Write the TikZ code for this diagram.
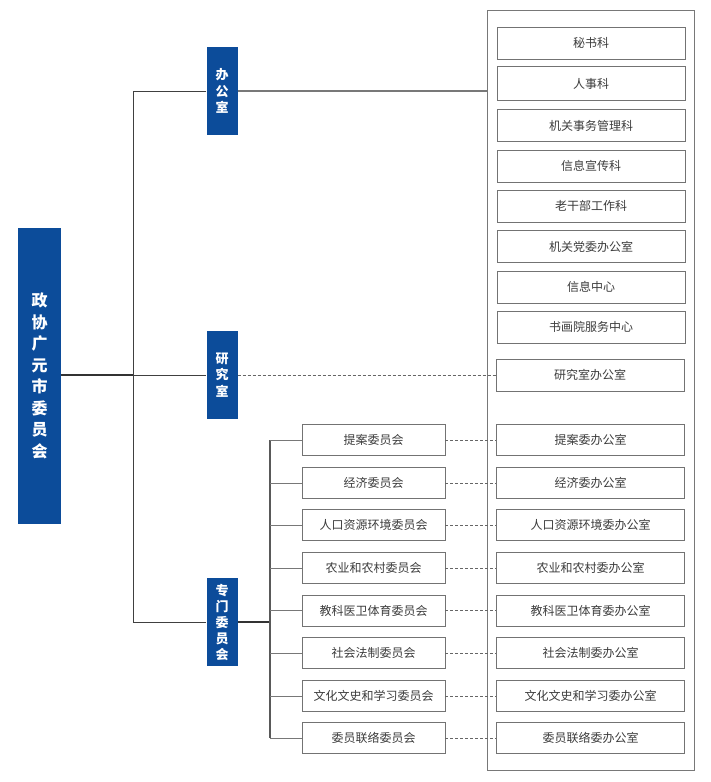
\documentclass[tikz,border=0pt]{standalone}
\usepackage{fontspec}
\newfontfamily\cjk{Noto Sans CJK SC}
\usepackage{xcolor}
\usepackage{tikz}

\definecolor{zxblue}{RGB}{12,76,154}
\definecolor{boxline}{RGB}{115,115,115}
\definecolor{txtgray}{RGB}{60,60,60}
\definecolor{linkgray}{RGB}{120,120,120}

\begin{document}
\begin{tikzpicture}[x=1pt, y=-1pt,
		bluebox/.style={fill=zxblue, text=white, align=center, inner sep=0pt, minimum width=31pt, minimum height=88pt, font=\cjk\bfseries\fontsize{13}{16.5}\selectfont},
		unitbox/.style={draw=boxline, line width=0.9pt, fill=white, text=txtgray, inner sep=0pt, minimum height=32pt, font=\cjk\fontsize{12}{14}\selectfont},
		deptbox/.style={unitbox, minimum width=188pt},
		combox/.style={unitbox, minimum width=143pt, minimum height=31pt},
		solidlink/.style={draw=linkgray, line width=1pt},
		dashlink/.style={draw=black!60, line width=0.9pt, dash pattern=on 3pt off 2pt}]
			\useasboundingbox (0, 0) rectangle (710, 782);
			
			%Frame
			\node[draw=linkgray, line width=0.8pt, minimum width=207pt, minimum height=760pt, inner sep=0pt] (frame) at (590.5, 390) {};
			
			%Level 1
			\node[bluebox, minimum width=43pt, minimum height=296pt, font=\cjk\bfseries\fontsize{16}{21.5}\selectfont] (cppcc) at (39.5, 376) {政\\协\\广\\元\\市\\委\\员\\会};
			
			%Level 2
			\node[bluebox] (office) at (222, 91) {办\\公\\室};
			\node[bluebox] (research) at (222, 375) {研\\究\\室};
			\node[bluebox, font=\cjk\bfseries\fontsize{13}{16}\selectfont] (special) at (222, 622) {专\\门\\委\\员\\会};
			
			%Lines
			\coordinate (trunk) at (133, 375);
			\draw[draw=black!80, line width=1.2pt] (cppcc.east |- trunk) -- (trunk);
			\draw[draw=black!75, line width=1pt] (office.west) -- (office.west -| trunk) -- (special.west -| trunk) -- (special.west);
			\draw[draw=black!75, line width=1pt] (trunk) -- (research.west);
			
			%Office sections
			\node[deptbox] (s1) at (591, 43) {秘书科};
			\node[deptbox, minimum height=34pt] (s2) at (591, 83.5) {人事科};
			\node[deptbox] (s3) at (591, 125.5) {机关事务管理科};
			\node[deptbox] (s4) at (591, 166) {信息宣传科};
			\node[deptbox] (s5) at (591, 206) {老干部工作科};
			\node[deptbox] (s6) at (591, 246.5) {机关党委办公室};
			\node[deptbox] (s7) at (591, 287) {信息中心};
			\node[deptbox] (s8) at (591, 327) {书画院服务中心};
			\node[deptbox] (r1) at (590, 375) {研究室办公室};
			\draw[draw=linkgray, line width=1.5pt] (office.east) -- (office.east -| frame.west);
			\draw[dashlink] (research.east) -- (r1.west);
			
			%Committees
			\node[combox] (c1) at (373.5, 440) {提案委员会};
			\node[combox] (c2) at (373.5, 483) {经济委员会};
			\node[combox] (c3) at (373.5, 525) {人口资源环境委员会};
			\node[combox] (c4) at (373.5, 568) {农业和农村委员会};
			\node[combox] (c5) at (373.5, 610.5) {教科医卫体育委员会};
			\node[combox] (c6) at (373.5, 653) {社会法制委员会};
			\node[combox] (c7) at (373.5, 696) {文化文史和学习委员会};
			\node[combox] (c8) at (373.5, 738) {委员联络委员会};
			
			%Committee offices
			\node[deptbox, minimum height=31pt] (o1) at (590.5, 440) {提案委办公室};
			\node[deptbox, minimum height=31pt] (o2) at (590.5, 483) {经济委办公室};
			\node[deptbox, minimum height=31pt] (o3) at (590.5, 525) {人口资源环境委办公室};
			\node[deptbox, minimum height=31pt] (o4) at (590.5, 568) {农业和农村委办公室};
			\node[deptbox, minimum height=31pt] (o5) at (590.5, 610.5) {教科医卫体育委办公室};
			\node[deptbox, minimum height=31pt] (o6) at (590.5, 653) {社会法制委办公室};
			\node[deptbox, minimum height=31pt] (o7) at (590.5, 696) {文化文史和学习委办公室};
			\node[deptbox, minimum height=31pt] (o8) at (590.5, 738) {委员联络委办公室};
			
			%Lines
			\coordinate (fork) at (270, 622);
			\draw[draw=black!80, line width=2pt] (special.east) -- (fork);
			\draw[draw=black!65, line width=1.2pt] (c1.west -| fork) -- (c8.west -| fork);
			\draw[solidlink] (c1.west -| fork) -- (c1.west);
			\draw[solidlink] (c2.west -| fork) -- (c2.west);
			\draw[solidlink] (c3.west -| fork) -- (c3.west);
			\draw[solidlink] (c4.west -| fork) -- (c4.west);
			\draw[solidlink] (c5.west -| fork) -- (c5.west);
			\draw[solidlink] (c6.west -| fork) -- (c6.west);
			\draw[solidlink] (c7.west -| fork) -- (c7.west);
			\draw[solidlink] (c8.west -| fork) -- (c8.west);
			\draw[dashlink] (c1.east) -- (o1.west);
			\draw[dashlink] (c2.east) -- (o2.west);
			\draw[dashlink] (c3.east) -- (o3.west);
			\draw[dashlink] (c4.east) -- (o4.west);
			\draw[dashlink] (c5.east) -- (o5.west);
			\draw[dashlink] (c6.east) -- (o6.west);
			\draw[dashlink] (c7.east) -- (o7.west);
			\draw[dashlink] (c8.east) -- (o8.west);
\end{tikzpicture}
\end{document}
